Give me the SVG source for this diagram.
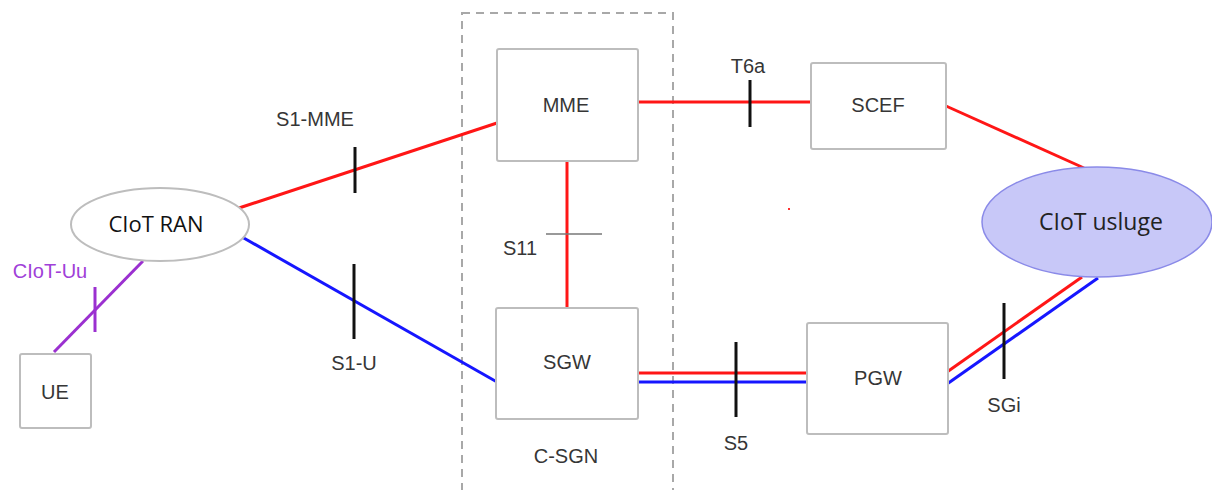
<svg xmlns="http://www.w3.org/2000/svg" width="1212" height="490" viewBox="0 0 1212 490">
<style>
.box{fill:#fff;stroke:#bdbdbd;stroke-width:2}
.lbl{font-family:"Liberation Sans",Arial,sans-serif;font-size:20px;fill:#363636;text-anchor:middle}
.red{stroke:#ff1616;stroke-width:3;fill:none}
.blue{stroke:#1616ff;stroke-width:3;fill:none}
.tick{stroke:#111;stroke-width:3}
</style>
<rect width="1212" height="490" fill="#fff"/>
<g id="c-sgn">
<rect x="462" y="13" width="211" height="490" fill="none" stroke="#a8a8a8" stroke-width="2" stroke-dasharray="8,6"/>
<text class="lbl" x="566" y="463">C-SGN</text>
</g>
<g id="connectors">
<line x1="143" y1="261" x2="54" y2="352" stroke="#9b30d0" stroke-width="3"/>
<line x1="95" y1="287" x2="95" y2="332" stroke="#9b30d0" stroke-width="3"/>
<line class="red" x1="239" y1="208" x2="497" y2="123"/>
<line class="tick" x1="355" y1="147" x2="355" y2="193"/>
<line class="blue" x1="242" y1="237" x2="497" y2="382"/>
<line class="tick" x1="354" y1="264" x2="354" y2="339"/>
<line class="red" x1="638" y1="102" x2="811" y2="102"/>
<line class="tick" x1="750" y1="80" x2="750" y2="127"/>
<line class="red" x1="567" y1="161" x2="567" y2="308"/>
<line x1="546" y1="234" x2="602" y2="234" stroke="#777" stroke-width="1.5"/>
<line class="red" x1="638" y1="373" x2="807" y2="373"/>
<line class="blue" x1="638" y1="382" x2="807" y2="382"/>
<line class="tick" x1="736" y1="342" x2="736" y2="417"/>
<line class="red" x1="946" y1="106" x2="1084" y2="168"/>
<line class="red" x1="947" y1="372" x2="1082" y2="277"/>
<line class="blue" x1="947" y1="384" x2="1098" y2="278"/>
<line class="tick" x1="1004" y1="303" x2="1004" y2="379"/>
<rect x="788" y="208" width="2" height="2" fill="#ff3030"/>
<text x="50" y="278" font-family="Liberation Sans,Arial,sans-serif" font-size="20" fill="#a040d8" text-anchor="middle">CIoT-Uu</text>
<text class="lbl" x="315" y="126">S1-MME</text>
<text class="lbl" x="354" y="370">S1-U</text>
<text class="lbl" x="748" y="73">T6a</text>
<text class="lbl" x="520" y="255">S11</text>
<text class="lbl" x="736" y="450">S5</text>
<text class="lbl" x="1004" y="412">SGi</text>
</g>
<g id="ciot-ran">
<ellipse cx="160" cy="224.5" rx="89" ry="36.5" fill="#fff" stroke="#bdbdbd" stroke-width="2"/>
<text x="156" y="232" font-family="Open Sans,Liberation Sans,sans-serif" font-size="22" fill="#111" text-anchor="middle">CIoT RAN</text>
</g>
<g id="ue">
<rect class="box" x="20" y="354" width="71" height="74" rx="2"/>
<text class="lbl" x="55" y="399">UE</text>
</g>
<g id="mme">
<rect class="box" x="497" y="49" width="141" height="112" rx="2"/>
<text class="lbl" x="566" y="112">MME</text>
</g>
<g id="sgw">
<rect class="box" x="496" y="308" width="142" height="111" rx="2"/>
<text class="lbl" x="567" y="369">SGW</text>
</g>
<g id="scef">
<rect class="box" x="811" y="63" width="135" height="86" rx="2"/>
<text class="lbl" x="878" y="112">SCEF</text>
</g>
<g id="pgw">
<rect class="box" x="807" y="323" width="141" height="111" rx="2"/>
<text class="lbl" x="878" y="385">PGW</text>
</g>
<g id="ciot-usluge">
<ellipse cx="1097" cy="222" rx="115" ry="55" fill="#c8c8f8" stroke="#8a8ae8" stroke-width="1.5"/>
<text x="1101" y="230" font-family="Open Sans,Liberation Sans,sans-serif" font-size="23" fill="#222" text-anchor="middle">CIoT usluge</text>
</g>
</svg>
